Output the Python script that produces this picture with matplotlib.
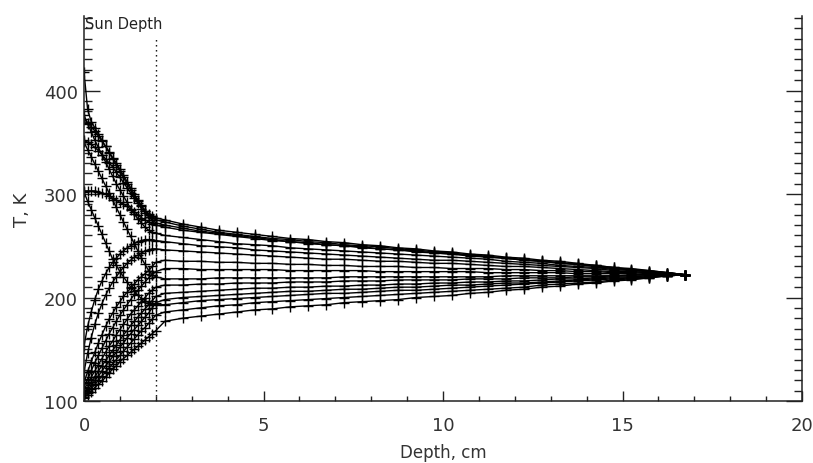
import matplotlib
matplotlib.use("Agg")
import matplotlib.pyplot as plt
from matplotlib.ticker import MultipleLocator, FixedLocator

# Depth grid (cm)
depth = [0.0, 0.1, 0.2, 0.3, 0.4, 0.5, 0.6, 0.7, 0.8, 0.9, 1.0, 1.1, 1.2, 1.3, 1.4,
         1.5, 1.6, 1.7, 1.8, 1.9, 2.0, 2.25, 2.75, 3.25, 3.75, 4.25, 4.75, 5.25, 5.75,
         6.25, 6.75, 7.25, 7.75, 8.25, 8.75, 9.25, 9.75, 10.25, 10.75, 11.25, 11.75,
         12.25, 12.75, 13.25, 13.75, 14.25, 14.75, 15.25, 15.75, 16.25, 16.75]

# Temperature profiles (K), one per time step
prof_noon = [418, 382, 370, 364, 358, 352, 346, 340, 334, 328, 322, 316, 310, 304, 298, 293, 288, 284, 281, 279, 277,
             275, 271, 268, 265, 263, 261, 259, 257, 256, 254, 253, 251, 250, 248, 247, 245, 244, 242, 241, 239, 238, 236, 235, 233, 231, 229, 228, 226, 224, 222]
prof_pm1 = [372, 369, 365, 361, 356, 351, 346, 341, 335, 330, 324, 318, 312, 306, 300, 294, 289, 284, 280, 277, 275,
            273, 269, 266, 263, 261, 259, 257, 256, 254, 253, 251, 250, 249, 247, 246, 244, 243, 241, 240, 238, 237, 235, 234, 232, 231, 229, 227, 226, 224, 222]
prof_pm2 = [352, 350, 348, 345, 342, 338, 334, 330, 326, 321, 316, 311, 306, 301, 296, 291, 286, 282, 278, 275, 272,
            270, 267, 264, 262, 260, 258, 256, 254, 253, 251, 250, 249, 247, 246, 245, 243, 242, 241, 239, 238, 236, 235, 233, 232, 230, 228, 227, 225, 224, 222]
prof_pm3 = [303, 303, 303, 303, 302, 301, 300, 298, 296, 294, 292, 290, 288, 285, 283, 280, 277, 275, 273, 271, 270,
            268, 265, 263, 261, 259, 257, 255, 254, 252, 251, 250, 248, 247, 246, 244, 243, 242, 240, 239, 238, 236, 235, 233, 232, 230, 228, 227, 225, 224, 222]
prof_am3 = [376, 368, 360, 352, 345, 338, 331, 324, 317, 310, 304, 298, 292, 286, 281, 276, 272, 268, 265, 263, 262,
            260, 258, 256, 254, 252, 251, 250, 248, 247, 246, 245, 244, 243, 242, 241, 240, 239, 238, 237, 235, 234, 233, 231, 230, 229, 227, 226, 225, 223, 222]
prof_eve1 = [153, 172, 186, 198, 208, 216, 223, 229, 234, 238, 242, 245, 248, 250, 252, 254, 255, 256, 256, 256, 255,
             254, 252, 250, 249, 248, 246, 245, 244, 243, 242, 241, 240, 239, 238, 237, 236, 236, 235, 234, 233, 232, 231, 230, 229, 228, 226, 225, 224, 223, 222]
prof_eve2 = [128, 146, 161, 174, 185, 194, 202, 209, 215, 220, 225, 229, 233, 236, 239, 241, 243, 245, 246, 247, 247,
             246, 245, 244, 243, 242, 241, 240, 239, 238, 237, 237, 236, 235, 235, 234, 233, 233, 232, 231, 230, 230, 229, 228, 227, 226, 225, 225, 224, 223, 222]
prof_n1 = [118, 128, 138, 147, 156, 164, 172, 179, 185, 191, 196, 201, 205, 209, 213, 217, 220, 223, 226, 230, 234,
           236, 235, 235, 234, 234, 233, 233, 232, 232, 231, 231, 230, 230, 230, 229, 229, 228, 228, 228, 227, 227, 226, 226, 225, 225, 224, 224, 223, 223, 222]
prof_n2 = [114, 121, 129, 137, 144, 151, 158, 165, 171, 177, 183, 188, 193, 198, 203, 207, 211, 215, 219, 222, 225,
           228, 228, 227, 227, 227, 227, 227, 226, 226, 226, 226, 226, 225, 225, 225, 225, 225, 225, 224, 224, 224, 224, 224, 223, 223, 223, 223, 222, 222, 222]
prof_am2 = [350, 343, 336, 329, 322, 315, 308, 301, 294, 287, 280, 273, 266, 259, 252, 245, 238, 232, 226, 222, 220,
            218, 218, 218, 219, 219, 219, 219, 219, 219, 219, 220, 220, 220, 220, 220, 220, 220, 220, 220, 221, 221, 221, 221, 221, 221, 221, 222, 222, 222, 222]
prof_n3 = [111, 117, 123, 129, 135, 141, 147, 153, 158, 164, 169, 174, 179, 184, 188, 192, 196, 200, 204, 207, 210,
           212, 212, 213, 213, 214, 214, 214, 215, 215, 215, 216, 216, 216, 217, 217, 217, 217, 218, 218, 218, 219, 219, 219, 220, 220, 221, 221, 221, 222, 222]
prof_n4 = [108, 113, 118, 123, 129, 134, 139, 144, 149, 154, 159, 164, 168, 173, 177, 181, 185, 189, 193, 197, 201,
           204, 205, 206, 207, 208, 209, 209, 210, 210, 211, 211, 212, 212, 213, 213, 214, 214, 215, 215, 216, 216, 217, 218, 218, 219, 220, 220, 221, 221, 222]
prof_n5 = [106, 110, 115, 120, 124, 129, 134, 138, 143, 147, 152, 156, 161, 165, 169, 173, 177, 181, 185, 190, 195,
           198, 200, 201, 202, 203, 204, 205, 206, 206, 207, 208, 208, 209, 210, 210, 211, 212, 212, 213, 214, 214, 215, 216, 217, 218, 219, 219, 220, 221, 222]
prof_am1 = [302, 293, 285, 277, 269, 261, 253, 245, 237, 231, 225, 220, 215, 210, 206, 202, 199, 197, 195, 194, 193,
            193, 195, 197, 198, 199, 200, 201, 202, 203, 204, 204, 205, 206, 207, 207, 208, 209, 210, 211, 212, 213, 214, 215, 216, 217, 218, 219, 220, 221, 222]
prof_n6 = [104, 108, 112, 116, 120, 124, 128, 132, 136, 140, 144, 148, 152, 156, 160, 164, 168, 171, 175, 179, 183,
           186, 188, 190, 192, 193, 195, 196, 197, 198, 199, 200, 201, 202, 203, 204, 205, 206, 207, 208, 209, 210, 212, 213, 214, 215, 217, 218, 219, 221, 222]
prof_n7 = [103, 106, 109, 113, 116, 119, 123, 127, 131, 134, 138, 141, 144, 147, 150, 153, 156, 159, 162, 165, 168,
           177, 180, 182, 184, 186, 188, 189, 191, 192, 193, 195, 196, 197, 198, 200, 201, 202, 204, 205, 207, 208, 210, 211, 213, 214, 216, 217, 219, 221, 222]

profiles = [prof_n1, prof_n2, prof_n3, prof_n4, prof_n5, prof_n6, prof_n7, prof_am1,
            prof_am2, prof_am3, prof_noon, prof_pm1, prof_pm2, prof_pm3, prof_eve1, prof_eve2]

sun_depth = 2.0
x_ticks = [0, 5, 10, 15, 20]
y_ticks = [100, 200, 300, 400]

fig = plt.figure(figsize=(8.13, 4.64), dpi=100)
ax = fig.add_axes([84 / 813, 62 / 464, 718 / 813, 385 / 464])

for prof in profiles:
    ax.plot(depth, prof, color="black", lw=1.0, marker="+", markersize=7,
            markeredgewidth=1.0)

ax.plot([sun_depth, sun_depth], [100, 452], color="black", lw=1.0,
        linestyle=(0, (1, 2.6)))
ax.text(0.03, 460, "Sun Depth", fontsize=10.5, ha="left", va="baseline", color="#222222")

ax.set_xlim(0, 20)
ax.set_ylim(100, 472)

ax.xaxis.set_major_locator(FixedLocator(x_ticks))
ax.xaxis.set_minor_locator(MultipleLocator(1))
ax.yaxis.set_major_locator(FixedLocator(y_ticks))
ax.yaxis.set_minor_locator(MultipleLocator(10))

ax.spines["top"].set_visible(False)
for s in ["left", "right", "bottom"]:
    ax.spines[s].set_linewidth(1.1)
    ax.spines[s].set_color("#222222")

ax.tick_params(axis="y", which="both", direction="in", left=True, right=True,
               labelright=False, color="#222222", width=1.0)
ax.tick_params(axis="y", which="major", length=11.5, pad=4.5, labelsize=13, labelcolor="#333333")
ax.tick_params(axis="y", which="minor", length=5.8)
ax.tick_params(axis="x", which="both", direction="in", top=False, color="#222222", width=1.0)
ax.tick_params(axis="x", which="major", length=7.2, pad=11, labelsize=13, labelcolor="#333333")
ax.tick_params(axis="x", which="minor", length=3.6)

ax.set_xlabel("Depth, cm", fontsize=12, color="#333333", labelpad=6)
ax.set_ylabel("T, K", fontsize=13, color="#333333", labelpad=9)

fig.savefig("out.png", dpi=100)
